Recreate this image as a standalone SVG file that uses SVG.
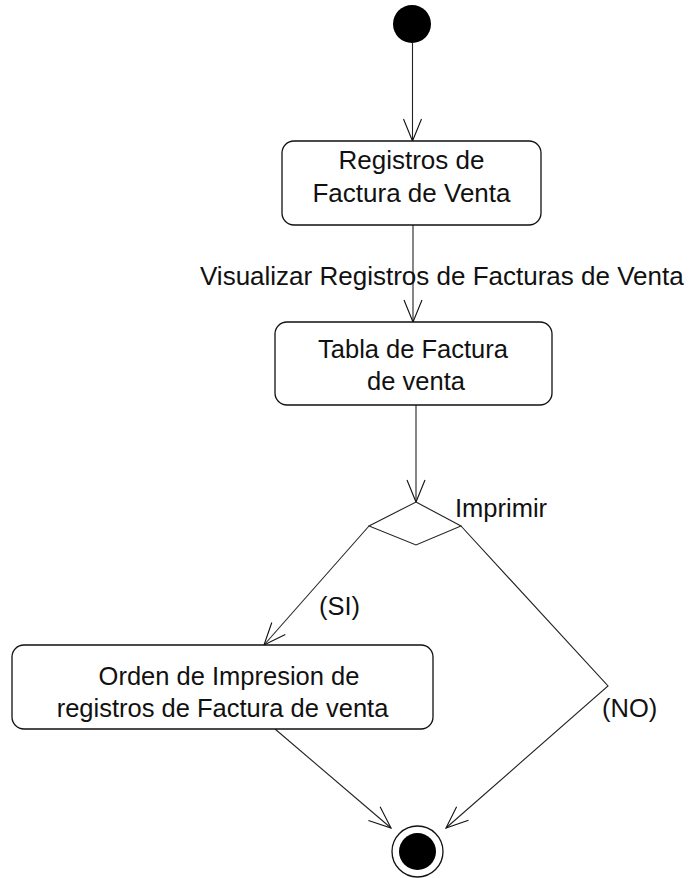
<svg xmlns="http://www.w3.org/2000/svg" width="694" height="878" viewBox="0 0 694 878">
<style>
.box{fill:#fff;stroke:#111;stroke-width:1.3}
.t{font-family:"Liberation Sans",Arial,sans-serif;font-size:25.5px;fill:#111}
.b{font-size:26px}
.c{text-anchor:middle}
.edge{fill:none;stroke:#222;stroke-width:1.1}
.dia{fill:#fff;stroke:#222;stroke-width:1.1}
</style>
<defs>
<marker id="arr" markerUnits="userSpaceOnUse" viewBox="-24 -12 26 24" refX="0" refY="0" markerWidth="26" markerHeight="24" orient="auto">
<path d="M-22,-9 L0,0 L-22,9" fill="none" stroke="#111" stroke-width="1.1"/>
</marker>
</defs>
<rect width="694" height="878" fill="#fff"/>
<g id="connectors">
<line class="edge" x1="412.5" y1="43" x2="412.5" y2="141" marker-end="url(#arr)"/>
<line class="edge" x1="413" y1="225" x2="413" y2="322" marker-end="url(#arr)"/>
<line class="edge" x1="416" y1="405" x2="416" y2="502" marker-end="url(#arr)"/>
<line class="edge" x1="369" y1="526" x2="264" y2="645" marker-end="url(#arr)"/>
<polyline class="edge" points="461,526 608,686 446,828" marker-end="url(#arr)"/>
<line class="edge" x1="275" y1="729" x2="391" y2="828" marker-end="url(#arr)"/>
<text class="t b" x="200" y="285">Visualizar Registros de Facturas de Venta</text>
<text class="t" x="319" y="615">(SI)</text>
<text class="t" x="602" y="717">(NO)</text>
</g>
<g id="start">
<circle cx="412" cy="24" r="19" fill="#000"/>
</g>
<g id="registros">
<rect class="box" x="282" y="141" width="259" height="84" rx="12"/>
<text class="t b c" x="411.5" y="169">Registros de</text>
<text class="t b c" x="411.5" y="202">Factura de Venta</text>
</g>
<g id="tabla">
<rect class="box" x="275" y="322" width="277" height="83" rx="12"/>
<text class="t c" x="413" y="358">Tabla de Factura</text>
<text class="t c" x="416" y="390">de venta</text>
</g>
<g id="decision">
<polygon class="dia" points="416,502 461,526 416,545 369,526"/>
<text class="t" x="455" y="517">Imprimir</text>
</g>
<g id="orden">
<rect class="box" x="12" y="645" width="421" height="84" rx="12"/>
<text class="t c" x="229" y="685">Orden de Impresion de</text>
<text class="t c" x="222.5" y="717">registros de Factura de venta</text>
</g>
<g id="end">
<circle cx="417.5" cy="851.5" r="25.5" fill="#fff" stroke="#111" stroke-width="1.3"/>
<circle cx="417.5" cy="851.5" r="18.5" fill="#000"/>
</g>
</svg>
